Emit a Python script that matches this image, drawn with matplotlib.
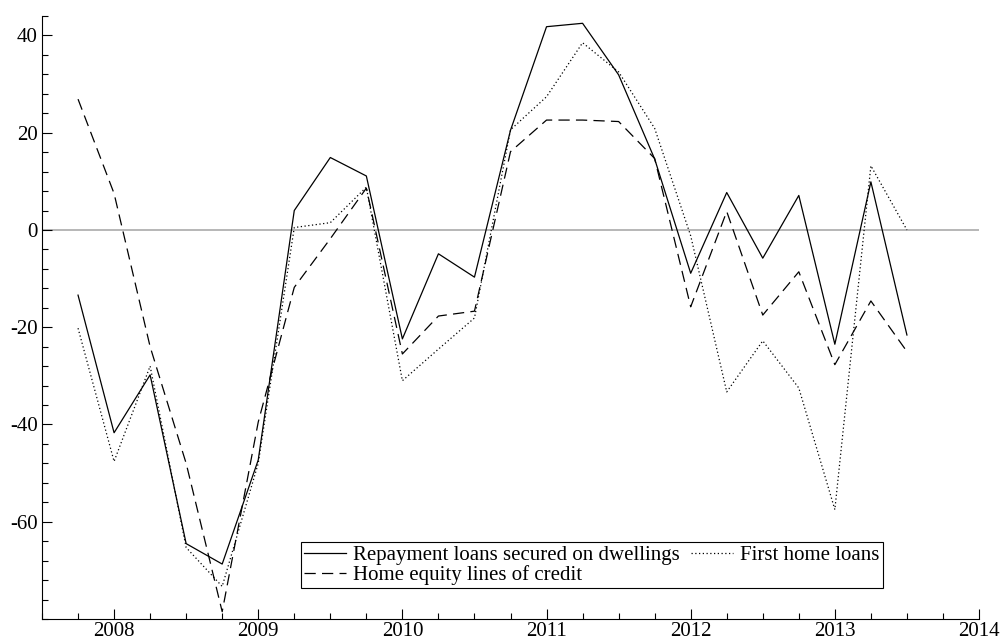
import numpy as np
import matplotlib.pyplot as plt
from matplotlib.ticker import MultipleLocator, FixedLocator

plt.rcParams['font.family'] = ['Liberation Serif', 'DejaVu Serif']

# quarterly observations, 2007Q4 .. 2013Q3
quarters = [2007.75, 2008.0, 2008.25, 2008.5, 2008.75, 2009.0, 2009.25, 2009.5,
            2009.75, 2010.0, 2010.25, 2010.5, 2010.75, 2011.0, 2011.25, 2011.5,
            2011.75, 2012.0, 2012.25, 2012.5, 2012.75, 2013.0, 2013.25, 2013.5]

repayment = [-13.4, -41.7, -29.8, -64.5, -68.7, -47.3, 4.0, 14.9,
             11.1, -22.4, -4.9, -9.7, 20.5, 41.8, 42.5, 31.9,
             14.6, -8.9, 7.7, -5.8, 7.1, -23.5, 9.9, -21.6]

first_home = [-20.2, -47.6, -28.0, -65.3, -73.3, -48.0, 0.5, 1.5,
              8.8, -31.0, -24.5, -18.1, 20.6, 27.4, 38.5, 32.5,
              20.9, -1.2, -33.3, -22.8, -32.5, -57.5, 13.2, 0.0]

home_equity = [26.9, 7.5, -24.0, -48.0, -78.5, -39.5, -11.8, -1.8,
               8.6, -25.5, -17.7, -16.7, 16.1, 22.6, 22.6, 22.3,
               14.7, -15.8, 3.8, -17.5, -8.6, -27.7, -14.6, -25.0]

year_ticks = [2008, 2009, 2010, 2011, 2012, 2013, 2014]
value_ticks = [-60, -40, -20, 0, 20, 40]

fig = plt.figure(figsize=(10.02, 6.41), dpi=100)
ax = fig.add_axes([42 / 1002, 22 / 641, 937 / 1002, 603 / 641])

ax.axhline(0, color='#aaaaaa', lw=1.2, zorder=1)

l1, = ax.plot(quarters, repayment, color='black', lw=0.9,
              label='Repayment loans secured on dwellings')
l2, = ax.plot(quarters, first_home, color='black', lw=0.9, ls=(0, (1, 2)),
              label='First home loans')
l3, = ax.plot(quarters, home_equity, color='black', lw=0.9, ls=(0, (9, 5)),
              label='Home equity lines of credit')

ax.set_xlim(2007.5, 2014)
ax.set_ylim(-80, 44)

ax.xaxis.set_major_locator(FixedLocator(year_ticks))
ax.xaxis.set_minor_locator(MultipleLocator(0.25))
ax.yaxis.set_major_locator(FixedLocator(value_ticks))
ax.yaxis.set_minor_locator(MultipleLocator(4))
ax.xaxis.set_major_formatter(plt.FuncFormatter(lambda v, p: '%d' % v))
ax.yaxis.set_major_formatter(plt.FuncFormatter(lambda v, p: '%d' % v))

ax.tick_params(which='both', direction='in', labelsize=15, color='black')
ax.tick_params(which='major', length=7, width=0.8)
ax.tick_params(which='minor', length=4, width=0.8)
ax.tick_params(axis='y', pad=3)
ax.tick_params(axis='x', pad=2.5)

for s in ['top', 'right']:
    ax.spines[s].set_visible(False)
for s in ['left', 'bottom']:
    ax.spines[s].set_linewidth(0.8)

leg = ax.legend(handles=[l1, l3, l2], ncol=2, loc='lower left',
                bbox_to_anchor=(0.2764, 0.0514), fontsize=15, frameon=True,
                fancybox=False, edgecolor='black', framealpha=1,
                borderpad=0.15, handlelength=2.0, handletextpad=0.35,
                columnspacing=0.55, labelspacing=0.0, borderaxespad=0)
leg.get_frame().set_linewidth(0.8)

fig.savefig('out.png', dpi=100)
